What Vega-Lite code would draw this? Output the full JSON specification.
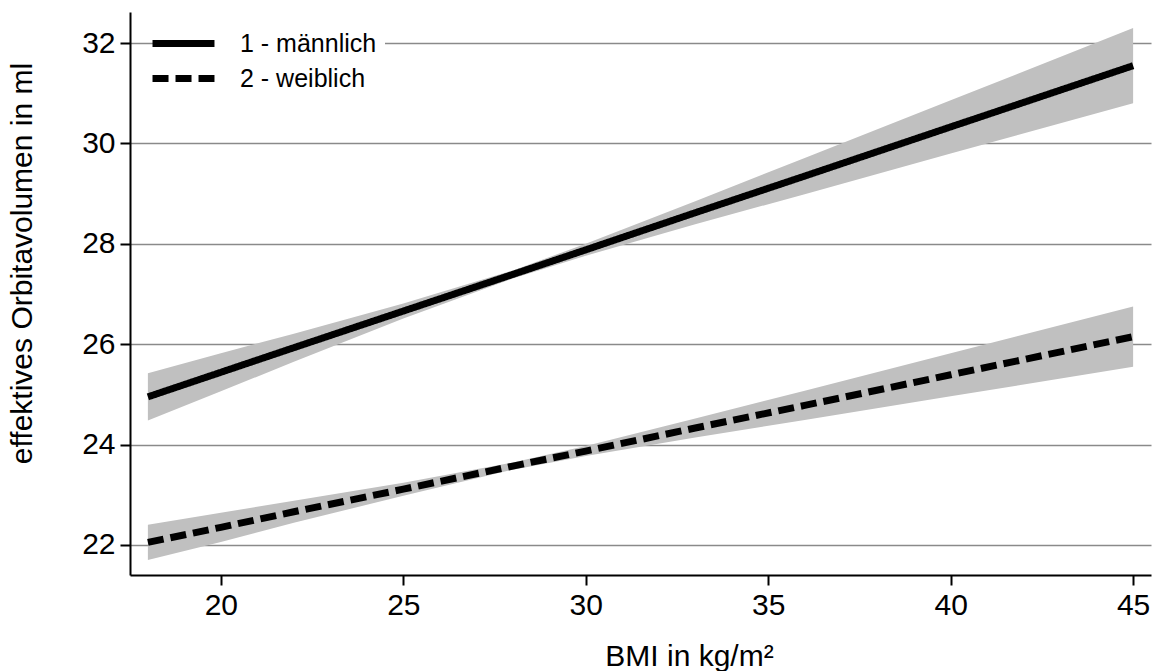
{
  "$schema": "https://vega.github.io/schema/vega-lite/v6.json",
  "autosize": "none",
  "width": 1021,
  "height": 563,
  "padding": {"left": 130, "top": 12, "right": 6, "bottom": 96},
  "background": "white",
  "config": {
    "view": {"stroke": null},
    "font": "Liberation Sans",
    "axis": {
      "labelFont": "Liberation Sans",
      "titleFont": "Liberation Sans",
      "labelColor": "black",
      "titleColor": "black",
      "titleFontWeight": "normal",
      "domainColor": "black",
      "domainWidth": 2,
      "tickColor": "black",
      "tickWidth": 2,
      "tickSize": 10
    },
    "legend": {
      "labelFont": "Liberation Sans"
    }
  },
  "data": {
    "values": [
      {"bmi": 18, "sex": "1 - männlich", "fit": 24.95, "lo": 24.48, "hi": 25.42},
      {"bmi": 20, "sex": "1 - männlich", "fit": 25.44, "lo": 25.06, "hi": 25.82},
      {"bmi": 22, "sex": "1 - männlich", "fit": 25.93, "lo": 25.65, "hi": 26.21},
      {"bmi": 25, "sex": "1 - männlich", "fit": 26.66, "lo": 26.51, "hi": 26.81},
      {"bmi": 28, "sex": "1 - männlich", "fit": 27.39, "lo": 27.31, "hi": 27.47},
      {"bmi": 30, "sex": "1 - männlich", "fit": 27.88, "lo": 27.76, "hi": 28.00},
      {"bmi": 33, "sex": "1 - männlich", "fit": 28.62, "lo": 28.39, "hi": 28.85},
      {"bmi": 36, "sex": "1 - männlich", "fit": 29.35, "lo": 28.99, "hi": 29.71},
      {"bmi": 40, "sex": "1 - männlich", "fit": 30.33, "lo": 29.80, "hi": 30.86},
      {"bmi": 45, "sex": "1 - männlich", "fit": 31.55, "lo": 30.80, "hi": 32.30},
      {"bmi": 18, "sex": "2 - weiblich", "fit": 22.05, "lo": 21.70, "hi": 22.40},
      {"bmi": 20, "sex": "2 - weiblich", "fit": 22.35, "lo": 22.06, "hi": 22.64},
      {"bmi": 22, "sex": "2 - weiblich", "fit": 22.66, "lo": 22.44, "hi": 22.88},
      {"bmi": 25, "sex": "2 - weiblich", "fit": 23.11, "lo": 22.98, "hi": 23.24},
      {"bmi": 28, "sex": "2 - weiblich", "fit": 23.57, "lo": 23.50, "hi": 23.64},
      {"bmi": 30, "sex": "2 - weiblich", "fit": 23.87, "lo": 23.77, "hi": 23.97},
      {"bmi": 33, "sex": "2 - weiblich", "fit": 24.33, "lo": 24.14, "hi": 24.52},
      {"bmi": 36, "sex": "2 - weiblich", "fit": 24.78, "lo": 24.49, "hi": 25.07},
      {"bmi": 40, "sex": "2 - weiblich", "fit": 25.39, "lo": 24.96, "hi": 25.82},
      {"bmi": 45, "sex": "2 - weiblich", "fit": 26.15, "lo": 25.55, "hi": 26.75}
    ]
  },
  "encoding": {
    "x": {
      "field": "bmi",
      "type": "quantitative",
      "scale": {"domain": [17.51, 45.49], "nice": false, "zero": false},
      "axis": {
        "values": [20, 25, 30, 35, 40, 45],
        "grid": false,
        "labelFontSize": 30,
        "labelPadding": 5,
        "title": "BMI in kg/m²",
        "titleFontSize": 30,
        "titleX": 559,
        "titleY": 90,
        "titleAlign": "center",
        "titleBaseline": "alphabetic"
      }
    }
  },
  "layer": [
    {
      "mark": {"type": "area", "color": "#c0c0c0", "opacity": 1},
      "encoding": {
        "y": {
          "field": "lo",
          "type": "quantitative",
          "scale": {"domain": [21.4, 32.62], "nice": false, "zero": false},
          "axis": {
            "values": [22, 24, 26, 28, 30, 32],
            "grid": true,
            "gridColor": "#8a8a8a",
            "gridWidth": 1.5,
            "labelFontSize": 30,
            "labelPadding": 5,
            "title": "effektives Orbitavolumen in ml",
            "titleFontSize": 30,
            "titleAngle": 270,
            "titleX": -108,
            "titleY": 251,
            "titleAlign": "center",
            "titleBaseline": "middle"
          }
        },
        "y2": {"field": "hi"},
        "detail": {"field": "sex"}
      }
    },
    {
      "mark": {"type": "line", "color": "black", "strokeWidth": 7, "strokeCap": "butt"},
      "encoding": {
        "y": {"field": "fit", "type": "quantitative"},
        "strokeDash": {
          "field": "sex",
          "type": "nominal",
          "scale": {"domain": ["1 - männlich", "2 - weiblich"], "range": [[1, 0], [16, 7]]},
          "legend": {
            "title": null,
            "orient": "none",
            "legendX": 33,
            "legendY": 11,
            "padding": 8,
            "fillColor": "white",
            "symbolType": "M-4,0H4",
            "symbolSize": 240,
            "symbolStrokeWidth": 7,
            "symbolStrokeColor": "black",
            "labelFontSize": 25,
            "labelColor": "black",
            "labelOffset": 44,
            "rowPadding": 6
          }
        }
      }
    }
  ]
}
